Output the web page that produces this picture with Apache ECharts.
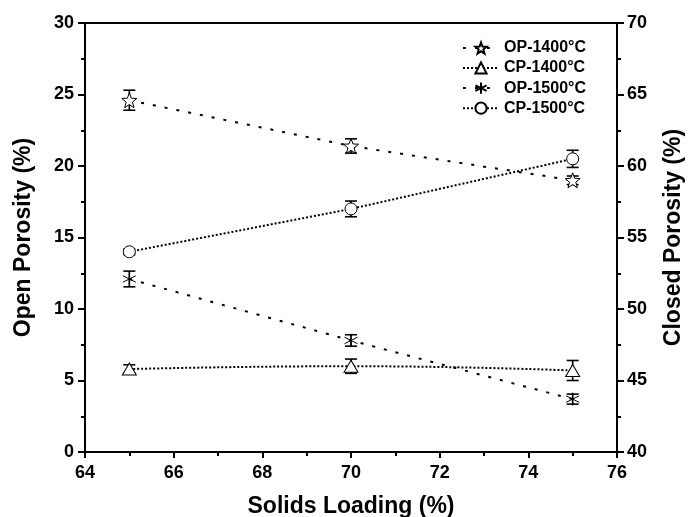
<!DOCTYPE html>
<html>
<head>
<meta charset="utf-8">
<script src="https://cdn.jsdelivr.net/npm/echarts@6/dist/echarts.min.js"></script>
<style>
  html, body { margin: 0; padding: 0; background: #fff; }
  #main { width: 691px; height: 517px; }
</style>
</head>
<body>
<div id="main"></div>
<script>
// solids loading (%)
var loading = [65, 70, 75];

// open porosity, left axis
var op1400 = [24.6, 21.4, 19.0];
var op1400Err = [0.7, 0.5, 0.3];
var op1500 = [12.1, 7.8, 3.7];
var op1500Err = [0.55, 0.4, 0.35];

// closed porosity, right axis
var cp1400 = [45.8, 46.0, 45.7];
var cp1400Err = [0.3, 0.5, 0.7];
var cp1500 = [54.0, 57.0, 60.5];
var cp1500Err = [0.2, 0.55, 0.6];

var names = ["OP-1400°C", "CP-1400°C", "OP-1500°C", "CP-1500°C"];

var font = "Liberation Sans, Arial, sans-serif";

// 5 point star outline
function starPath() {
  var pts = [];
  for (var i = 0; i < 10; i++) {
    var r = i % 2 === 0 ? 10 : 4.2;
    var a = -Math.PI / 2 + i * Math.PI / 5;
    pts.push((10 + r * Math.cos(a)).toFixed(2) + "," + (10 + r * Math.sin(a)).toFixed(2));
  }
  return "path://M" + pts.join("L") + "Z";
}
var asterisk = "path://M10,0L10,20M1.34,5L18.66,15M1.34,15L18.66,5";

function pairs(vals) {
  return loading.map(function (x, i) { return [x, vals[i]]; });
}

function errorBars(vals, errs, axis) {
  return {
    type: "custom",
    yAxisIndex: axis,
    z: 1,
    silent: true,
    data: loading.map(function (x, i) { return [x, vals[i] - errs[i], vals[i] + errs[i]]; }),
    encode: { x: 0, y: [1, 2] },
    renderItem: function (params, api) {
      var lo = api.coord([api.value(0), api.value(1)]);
      var hi = api.coord([api.value(0), api.value(2)]);
      var w = 6;
      var st = { stroke: "#000", lineWidth: 1.6 };
      return {
        type: "group",
        children: [
          { type: "line", shape: { x1: lo[0], y1: lo[1], x2: hi[0], y2: hi[1] }, style: st },
          { type: "line", shape: { x1: lo[0] - w, y1: lo[1], x2: lo[0] + w, y2: lo[1] }, style: st },
          { type: "line", shape: { x1: hi[0] - w, y1: hi[1], x2: hi[0] + w, y2: hi[1] }, style: st }
        ]
      };
    }
  };
}

var dashed = { color: "#000", width: 2, type: [3, 9] };
var dotted = { color: "#000", width: 2, type: [2, 2] };
var hollow = { color: "#fff", borderColor: "#000", borderWidth: 1 };

var tickLabel = { fontFamily: font, fontWeight: "bold", fontSize: 18, color: "#000" };
var nameStyle = { fontFamily: font, fontWeight: "bold", fontSize: 23, color: "#000" };

var myChart = echarts.init(document.getElementById("main"));
var option = {
  animation: false,
  textStyle: { fontFamily: font },
  grid: { left: 85, right: 74, top: 23, bottom: 65, outerBoundsMode: "none" },
  legend: {
    data: names,
    orient: "vertical",
    right: 100,
    top: 35,
    itemWidth: 36,
    itemHeight: 14,
    itemGap: 4,
    textStyle: { fontFamily: font, fontWeight: "bold", fontSize: 16, color: "#000" }
  },
  xAxis: [
    {
      type: "value",
      min: 64,
      max: 76,
      interval: 2,
      name: "Solids Loading (%)",
      nameLocation: "middle",
      nameGap: 43,
      nameTextStyle: nameStyle,
      axisLine: { lineStyle: { color: "#000", width: 2 } },
      axisTick: { length: 6, lineStyle: { width: 2 } },
      minorTick: { show: true, splitNumber: 2, length: 4, lineStyle: { color: "#000", width: 2 } },
      splitLine: { show: false },
      axisLabel: Object.assign({ margin: 12 }, tickLabel)
    },
    {
      type: "value",
      position: "top",
      min: 64,
      max: 76,
      axisLine: { lineStyle: { color: "#000", width: 2 } },
      axisTick: { show: false },
      axisLabel: { show: false },
      splitLine: { show: false }
    }
  ],
  yAxis: [
    {
      type: "value",
      min: 0,
      max: 30,
      interval: 5,
      name: "Open Porosity (%)",
      nameLocation: "middle",
      nameGap: 50,
      nameTextStyle: nameStyle,
      axisLine: { show: true, lineStyle: { color: "#000", width: 2 } },
      axisTick: { show: true, length: 7, lineStyle: { width: 2 } },
      minorTick: { show: true, splitNumber: 2, length: 4, lineStyle: { color: "#000", width: 2 } },
      splitLine: { show: false },
      axisLabel: Object.assign({ margin: 11 }, tickLabel)
    },
    {
      type: "value",
      position: "right",
      min: 40,
      max: 70,
      interval: 5,
      name: "Closed Porosity (%)",
      nameLocation: "middle",
      nameGap: 45,
      nameTextStyle: nameStyle,
      axisLine: { show: true, lineStyle: { color: "#000", width: 2 } },
      axisTick: { show: true, length: 7, lineStyle: { width: 2 } },
      minorTick: { show: true, splitNumber: 2, length: 4, lineStyle: { color: "#000", width: 2 } },
      splitLine: { show: false },
      axisLabel: Object.assign({ margin: 10 }, tickLabel)
    }
  ],
  series: [
    errorBars(op1400, op1400Err, 0),
    errorBars(cp1400, cp1400Err, 1),
    errorBars(op1500, op1500Err, 0),
    errorBars(cp1500, cp1500Err, 1),
    {
      name: names[0],
      type: "line",
      yAxisIndex: 0,
      z: 3,
      data: pairs(op1400),
      symbol: starPath(),
      symbolSize: 15,
      lineStyle: dashed,
      itemStyle: hollow
    },
    {
      name: names[1],
      type: "line",
      yAxisIndex: 1,
      z: 3,
      smooth: true,
      data: pairs(cp1400),
      symbol: "triangle",
      symbolSize: [14, 12],
      lineStyle: dotted,
      itemStyle: hollow
    },
    {
      name: names[2],
      type: "line",
      yAxisIndex: 0,
      z: 3,
      data: pairs(op1500),
      symbol: asterisk,
      symbolSize: 13,
      lineStyle: dashed,
      itemStyle: { color: "none", borderColor: "#000", borderWidth: 1 }
    },
    {
      name: names[3],
      type: "line",
      yAxisIndex: 1,
      z: 3,
      data: pairs(cp1500),
      symbol: "circle",
      symbolSize: 12,
      lineStyle: dotted,
      itemStyle: hollow
    }
  ]
};
myChart.setOption(option);
</script>
</body>
</html>
